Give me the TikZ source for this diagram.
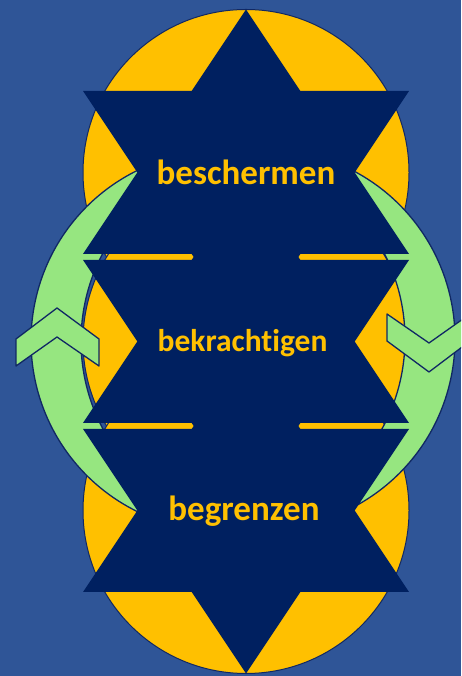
\documentclass[tikz,border=0pt]{standalone}
\usepackage{fontspec}
\setmainfont[Ligatures={NoCommon,NoDiscretionary}]{Carlito}
\definecolor{bgblue}{RGB}{47,85,151}
\definecolor{navy}{RGB}{0,32,96}
\definecolor{gold}{RGB}{255,192,0}
\definecolor{lgreen}{RGB}{150,230,128}
\definecolor{edgeblue}{RGB}{16,40,100}
\tikzset{
  ring/.style={fill=gold, draw=edgeblue, line width=1pt},
  hexa/.style={fill=navy},
  band/.style={fill=lgreen, draw=edgeblue, line width=1.3pt, line join=round},
  lbl/.style={text=gold, anchor=base, inner sep=0pt},
  cyclearrow/.pic={
    \draw[band] (256.6,521.6) arc[start angle=79.2, end angle=280.8, radius=190]
                arc[start angle=266.5, end angle=93.5, radius=187] -- cycle;
    \draw[band] (16,337) -- (57,368) -- (99,337) -- (99,310) -- (57,339) -- (16,310) -- cycle;
  }
}
\begin{document}
\begin{tikzpicture}[x=1pt,y=1pt]
\useasboundingbox (0,0) rectangle (461,676);
\clip (0,0) rectangle (461,676);
\fill[bgblue] (0,0) rectangle (461,676);
\foreach \cy in {503.5,334.5,165.5} {\draw[ring] (246,\cy) circle[radius=163];}
\pic at (0,0) {cyclearrow};
\pic[rotate=180] at (486,672) {cyclearrow};
\foreach \cy in {503.5,334.5,165.5} {
  \fill[hexa] (246,\cy+163) -- (83,\cy-81.5) -- (409,\cy-81.5) -- cycle;
  \fill[hexa] (246,\cy-163) -- (83,\cy+81.5) -- (409,\cy+81.5) -- cycle;
}
\node[lbl, font=\bfseries\fontsize{35}{35}\selectfont] (t1) at (246,491.5) {beschermen};
\node[lbl, font=\bfseries\fontsize{31.5}{31.5}\selectfont] (t2) at (242.5,324) {bekrachtigen};
\node[lbl, font=\bfseries\fontsize{35}{35}\selectfont] (t3) at (244,155) {begrenzen};
\end{tikzpicture}
\end{document}
